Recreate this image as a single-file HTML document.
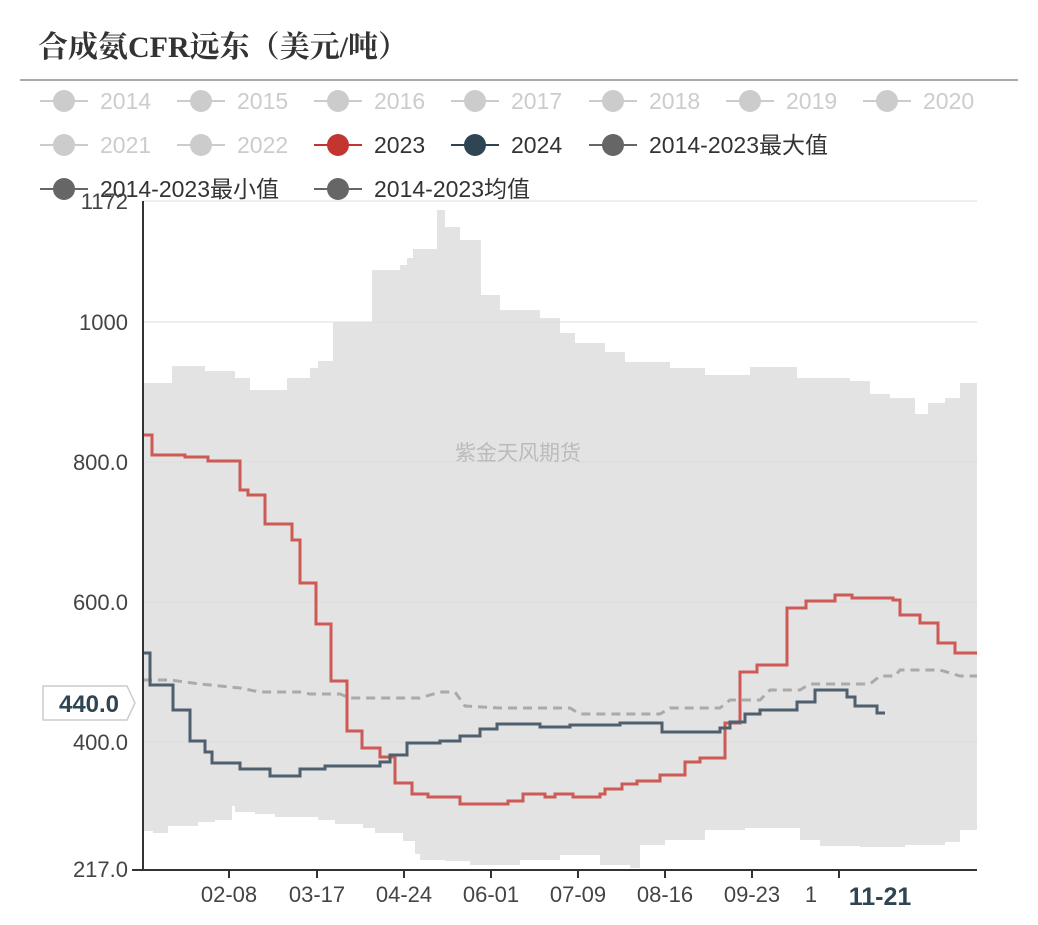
<!DOCTYPE html>
<html><head><meta charset="utf-8"><style>
body{margin:0;background:#fff;}
svg text{font-family:"Liberation Sans","Noto Sans CJK SC",sans-serif;}
</style></head><body>
<svg width="1038" height="920" xmlns="http://www.w3.org/2000/svg">
<text x="38" y="57" font-size="30" font-weight="bold" fill="#333" style="font-family:'Liberation Serif','Noto Serif CJK SC',serif">合成氨CFR远东（美元/吨）</text>
<line x1="20" y1="80" x2="1018" y2="80" stroke="#aaa" stroke-width="2"/>
<g font-size="23">
<g fill="#ccc" stroke="#ccc">
<line x1="40" y1="101" x2="88" y2="101" stroke-width="2"/><circle cx="64" cy="101" r="11" stroke="none"/><text x="100" y="109" stroke="none">2014</text>
<line x1="177" y1="101" x2="225" y2="101" stroke-width="2"/><circle cx="201" cy="101" r="11" stroke="none"/><text x="237" y="109" stroke="none">2015</text>
<line x1="314" y1="101" x2="362" y2="101" stroke-width="2"/><circle cx="338" cy="101" r="11" stroke="none"/><text x="374" y="109" stroke="none">2016</text>
<line x1="451" y1="101" x2="499" y2="101" stroke-width="2"/><circle cx="475" cy="101" r="11" stroke="none"/><text x="511" y="109" stroke="none">2017</text>
<line x1="589" y1="101" x2="637" y2="101" stroke-width="2"/><circle cx="613" cy="101" r="11" stroke="none"/><text x="649" y="109" stroke="none">2018</text>
<line x1="726" y1="101" x2="774" y2="101" stroke-width="2"/><circle cx="750" cy="101" r="11" stroke="none"/><text x="786" y="109" stroke="none">2019</text>
<line x1="863" y1="101" x2="911" y2="101" stroke-width="2"/><circle cx="887" cy="101" r="11" stroke="none"/><text x="923" y="109" stroke="none">2020</text>
<line x1="40" y1="145" x2="88" y2="145" stroke-width="2"/><circle cx="64" cy="145" r="11" stroke="none"/><text x="100" y="153" stroke="none">2021</text>
<line x1="177" y1="145" x2="225" y2="145" stroke-width="2"/><circle cx="201" cy="145" r="11" stroke="none"/><text x="237" y="153" stroke="none">2022</text>
</g>
<line x1="314" y1="145" x2="362" y2="145" stroke="#c23531" stroke-width="2"/><circle cx="338" cy="145" r="11" fill="#c23531"/><text x="374" y="153" fill="#333">2023</text>
<line x1="451" y1="145" x2="499" y2="145" stroke="#2f4554" stroke-width="2"/><circle cx="475" cy="145" r="11" fill="#2f4554"/><text x="511" y="153" fill="#333">2024</text>
<line x1="589" y1="145" x2="637" y2="145" stroke="#666" stroke-width="2"/><circle cx="613" cy="145" r="11" fill="#666"/><text x="649" y="153" fill="#333">2014-2023最大值</text>
<line x1="40" y1="189" x2="88" y2="189" stroke="#666" stroke-width="2"/><circle cx="64" cy="189" r="11" fill="#666"/><text x="100" y="197" fill="#333">2014-2023最小值</text>
<line x1="314" y1="189" x2="362" y2="189" stroke="#666" stroke-width="2"/><circle cx="338" cy="189" r="11" fill="#666"/><text x="374" y="197" fill="#333">2014-2023均值</text>
</g>
<path fill="#e3e3e3" d="M143 383 H172 V366 H205 V371 H235 V378 H250 V390 H287 V378 H310 V368 H318 V361 H333 V322 H372 V270 H400 V265 H407 V258 H413 V249 H437 V210 H445 V227 H460 V240 H473 V240 H481 V295 H500 V310 H540 V318 H560 V333 H575 V343 H605 V352 H625 V362 H670 V368 H705 V375 H750 V367 H797 V378 H850 V381 H870 V394 H890 V398 H915 V414 H928 V403 H945 V398 H960 V383 H977
V830 H960 V842 H945 V845 H905 V847 H860 V846 H820 V840 H800 V828 H745 V830 H705 V840 H665 V845 H640 V868 H630 V865 H600 V855 H560 V860 H520 V865 H470 V861 H445 V860 H420 V854 H415 V841 H403 V833 H375 V828 H363 V824 H335 V820 H318 V817 H275 V814 H255 V812 H240 V812 H235 V806 H232 V820 H215 V822 H198 V826 H168 V833 H153 V831 H143 Z"/>
<g stroke="#ddd" stroke-width="1">
<line x1="143" y1="201" x2="977" y2="201"/><line x1="143" y1="322" x2="977" y2="322"/><line x1="143" y1="462" x2="977" y2="462"/><line x1="143" y1="602" x2="977" y2="602"/><line x1="143" y1="742" x2="977" y2="742"/>
</g>
<text x="518" y="460" font-size="21" fill="#bbb" text-anchor="middle">紫金天风期货</text>
<path fill="none" stroke="#aaa" stroke-width="3" stroke-dasharray="9,6" d="M143 680 H170 L200 684 L240 688 L260 692 H300 L310 694 H340 L350 698 H420 L440 692 H455 L465 706 L500 708 H570 L580 714 H660 L670 708 H720 L730 700 H760 L770 690 H800 L810 684 H870 L880 676 H895 L900 670 H940 L960 676 H977"/>
<path fill="none" stroke="#cd5a54" stroke-width="3" d="M143 435 H152 V455 H185 V457 H208 V461 H240 V490 H248 V495 H265 V524 H292 V540 H300 V583 H316 V624 H331 V681 H347 V731 H362 V748 H380 V757 H395 V783 H412 V794 H428 V797 H460 V804 H508 V801 H523 V794 H545 V797 H555 V794 H573 V797 H600 V794 H605 V789 H622 V784 H637 V781 H660 V775 H685 V762 H700 V758 H725 V723 H740 V672 H757 V665 H787 V608 H806 V601 H835 V595 H852 V598 H893 V600 H900 V615 H920 V623 H938 V643 H955 V653 H977"/>
<path fill="none" stroke="#4f5f6e" stroke-width="3" d="M143 653 H150 V685 H173 V710 H190 V741 H205 V752 H212 V763 H240 V769 H270 V776 H300 V769 H325 V766 H380 V762 H390 V755 H407 V743 H440 V741 H460 V736 H480 V729 H497 V724 H540 V727 H570 V725 H620 V723 H662 V732 H720 V728 H730 V722 H745 V714 H760 V710 H797 V702 H815 V690 H847 V697 H855 V706 H877 V713 H885"/>
<g stroke="#333" stroke-width="2">
<line x1="143" y1="201" x2="143" y2="870"/><line x1="132" y1="870" x2="977" y2="870"/>
<line x1="229" y1="870" x2="229" y2="878"/><line x1="317" y1="870" x2="317" y2="878"/><line x1="404" y1="870" x2="404" y2="878"/><line x1="491" y1="870" x2="491" y2="878"/><line x1="578" y1="870" x2="578" y2="878"/><line x1="665" y1="870" x2="665" y2="878"/><line x1="752" y1="870" x2="752" y2="878"/><line x1="839" y1="870" x2="839" y2="878"/>
</g>
<g font-size="22" fill="#444" text-anchor="end">
<text x="128" y="209">1172</text><text x="128" y="330">1000</text><text x="128" y="470">800.0</text><text x="128" y="610">600.0</text><text x="128" y="750">400.0</text><text x="128" y="877">217.0</text>
</g>
<g font-size="22" fill="#444" text-anchor="middle">
<text x="229" y="902">02-08</text><text x="317" y="902">03-17</text><text x="404" y="902">04-24</text><text x="491" y="902">06-01</text><text x="578" y="902">07-09</text><text x="665" y="902">08-16</text><text x="752" y="902">09-23</text><text x="811" y="902">1</text>
<text x="880" y="905" font-weight="bold" font-size="25" fill="#2f4554">11-21</text>
</g>
<path d="M43 686 H127 L135 703 L127 720 H43 Z" fill="#fff" stroke="#ccc" stroke-width="1.5"/>
<text x="89" y="712" font-size="24" font-weight="bold" fill="#2f4554" text-anchor="middle">440.0</text>
</svg>
</body></html>
